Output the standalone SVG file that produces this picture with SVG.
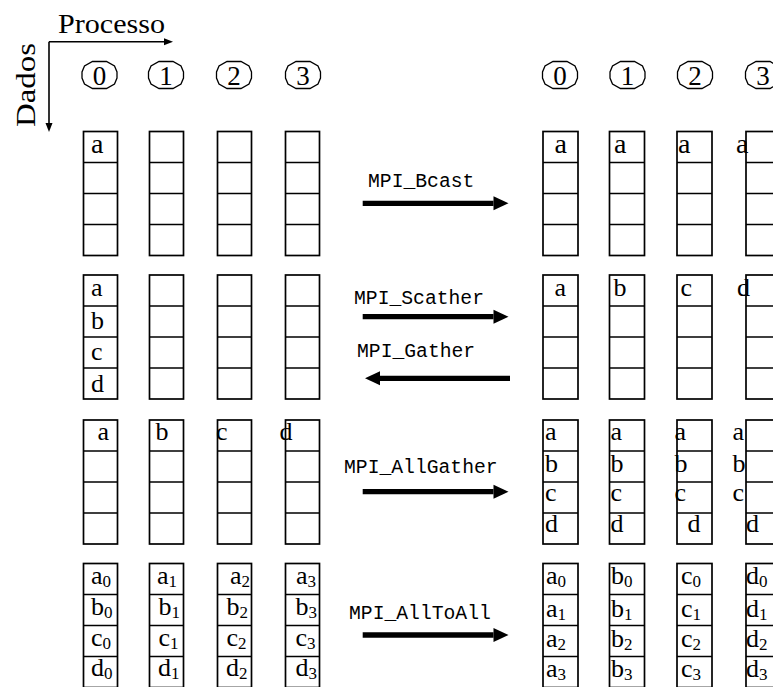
<svg xmlns="http://www.w3.org/2000/svg" xmlns:xlink="http://www.w3.org/1999/xlink" width="773" height="687" viewBox="0 0 773 687">
<style>
.cell{fill:none;stroke:#000;stroke-width:1.7}
.oct{fill:none;stroke:#000;stroke-width:1.3}
.t{font-family:"Liberation Serif","Times New Roman",Times,serif;font-size:26px;fill:#000}
.t1{font-size:28px}
.s{font-size:17px}
.big{font-family:"Liberation Serif","Times New Roman",Times,serif;font-size:28px;fill:#000}
.dg{font-family:"Liberation Serif","Times New Roman",Times,serif;font-size:27px;fill:#000;text-anchor:middle}
.m{font-family:"Liberation Mono","Courier New",monospace;font-size:19.7px;fill:#000}
.ax{stroke:#000;stroke-width:1.6;fill:none}
.ar{stroke:#000;stroke-width:5.3;fill:none}
</style>
<defs>
<g id="colL"><rect class="cell" x="0" y="0" width="34" height="124"/><path class="cell" d="M0,31H34M0,62H34M0,93H34"/></g>
<g id="colR"><rect class="cell" x="0" y="0" width="35" height="124"/><path class="cell" d="M0,31H35M0,62H35M0,93H35"/></g>
<polygon id="oct" class="oct" points="-7,-13.5 7,-13.5 15,-9 17.5,-3 17.5,3 15,9 7,13.5 -7,13.5 -15,9 -17.5,3 -17.5,-3 -15,-9"/>
<marker id="ah" markerUnits="userSpaceOnUse" markerWidth="15" markerHeight="14" refX="0" refY="7" orient="auto" overflow="visible"><path d="M0,0L15,7L0,14z" fill="#000"/></marker>
<marker id="sh" markerUnits="userSpaceOnUse" markerWidth="9" markerHeight="7" refX="0" refY="3.5" orient="auto" overflow="visible"><path d="M0,0L9,3.5L0,7z" fill="#000"/></marker>
</defs>
<rect x="0" y="0" width="773" height="687" fill="#fff"/>

<g id="axes">
<text class="big" x="58" y="33" textLength="107" lengthAdjust="spacingAndGlyphs">Processo</text>
<text class="big" transform="translate(35,127) rotate(-90)" x="0" y="0" textLength="84" lengthAdjust="spacingAndGlyphs">Dados</text>
<path class="ax" d="M49,41.7H164" marker-end="url(#sh)"/>
<path class="ax" d="M49,41.7V123" marker-end="url(#sh)"/>
</g>

<g id="procs-left">
<g id="pL0"><use href="#oct" x="99.5" y="75"/><text class="dg" x="99.5" y="85">0</text></g>
<g id="pL1"><use href="#oct" x="166" y="75"/><text class="dg" x="166" y="85">1</text></g>
<g id="pL2"><use href="#oct" x="234" y="75"/><text class="dg" x="234" y="85">2</text></g>
<g id="pL3"><use href="#oct" x="303" y="75"/><text class="dg" x="303" y="85">3</text></g>
</g>
<g id="procs-right">
<g id="pR0"><use href="#oct" x="560" y="75"/><text class="dg" x="560" y="85">0</text></g>
<g id="pR1"><use href="#oct" x="627.5" y="75"/><text class="dg" x="627.5" y="85">1</text></g>
<g id="pR2"><use href="#oct" x="695" y="75"/><text class="dg" x="695" y="85">2</text></g>
<g id="pR3"><use href="#oct" x="763" y="75"/><text class="dg" x="763" y="85">3</text></g>
</g>

<!-- Block 1: Bcast -->
<g id="b1L0"><use href="#colL" x="83.5" y="131.5"/><text class="t t1" x="91" y="152.5">a</text></g>
<g id="b1L1"><use href="#colL" x="149.5" y="131.5"/></g>
<g id="b1L2"><use href="#colL" x="217.5" y="131.5"/></g>
<g id="b1L3"><use href="#colL" x="285.5" y="131.5"/></g>
<g id="b1R0"><use href="#colR" x="543" y="131.5"/><text class="t t1" x="554.5" y="152.5">a</text></g>
<g id="b1R1"><use href="#colR" x="609.5" y="131.5"/><text class="t t1" x="614" y="152.5">a</text></g>
<g id="b1R2"><use href="#colR" x="677" y="131.5"/><text class="t t1" x="678" y="152.5">a</text></g>
<g id="b1R3"><use href="#colR" x="746" y="131.5"/><text class="t t1" x="736" y="152.5">a</text></g>

<!-- Block 2: Scatter / Gather -->
<g id="b2L0"><use href="#colL" x="83.5" y="275"/><text class="t" x="91" y="296">a</text><text class="t" x="91" y="329">b</text><text class="t" x="91" y="360">c</text><text class="t" x="91" y="391.5">d</text></g>
<g id="b2L1"><use href="#colL" x="149.5" y="275"/></g>
<g id="b2L2"><use href="#colL" x="217.5" y="275"/></g>
<g id="b2L3"><use href="#colL" x="285.5" y="275"/></g>
<g id="b2R0"><use href="#colR" x="543" y="275"/><text class="t" x="554.5" y="296">a</text></g>
<g id="b2R1"><use href="#colR" x="609.5" y="275"/><text class="t" x="613.5" y="296">b</text></g>
<g id="b2R2"><use href="#colR" x="677" y="275"/><text class="t" x="680.5" y="296">c</text></g>
<g id="b2R3"><use href="#colR" x="746" y="275"/><text class="t" x="737" y="296">d</text></g>

<!-- Block 3: AllGather -->
<g id="b3L0"><use href="#colL" x="83.5" y="420"/><text class="t" x="97.5" y="439.5">a</text></g>
<g id="b3L1"><use href="#colL" x="149.5" y="420"/><text class="t" x="155.5" y="439.5">b</text></g>
<g id="b3L2"><use href="#colL" x="217.5" y="420"/><text class="t" x="216" y="439.5">c</text></g>
<g id="b3L3"><use href="#colL" x="285.5" y="420"/><text class="t" x="279.5" y="439.5">d</text></g>
<g id="b3R0"><use href="#colR" x="543" y="420"/><text class="t" x="545" y="439.5">a</text><text class="t" x="545" y="472">b</text><text class="t" x="545" y="501">c</text><text class="t" x="545" y="532">d</text></g>
<g id="b3R1"><use href="#colR" x="609.5" y="420"/><text class="t" x="610.5" y="439.5">a</text><text class="t" x="610.5" y="472">b</text><text class="t" x="610.5" y="501">c</text><text class="t" x="610.5" y="532">d</text></g>
<g id="b3R2"><use href="#colR" x="677" y="420"/><text class="t" x="674.5" y="439.5">a</text><text class="t" x="674.5" y="472">b</text><text class="t" x="674.5" y="501">c</text><text class="t" x="687.5" y="532">d</text></g>
<g id="b3R3"><use href="#colR" x="746" y="420"/><text class="t" x="732.5" y="439.5">a</text><text class="t" x="732.5" y="472">b</text><text class="t" x="732.5" y="501">c</text><text class="t" x="746" y="532">d</text></g>

<!-- Block 4: AllToAll -->
<g id="b4L0"><use href="#colL" x="83.5" y="563.5"/>
<text class="t" x="91" y="583.5">a<tspan class="s" dy="3">0</tspan></text>
<text class="t" x="91" y="615">b<tspan class="s" dy="3">0</tspan></text>
<text class="t" x="91" y="646">c<tspan class="s" dy="3">0</tspan></text>
<text class="t" x="91" y="676">d<tspan class="s" dy="3">0</tspan></text></g>
<g id="b4L1"><use href="#colL" x="149.5" y="563.5"/>
<text class="t" x="157" y="583.5">a<tspan class="s" dy="3">1</tspan></text>
<text class="t" x="158.5" y="615">b<tspan class="s" dy="3">1</tspan></text>
<text class="t" x="158.5" y="646">c<tspan class="s" dy="3">1</tspan></text>
<text class="t" x="158" y="676">d<tspan class="s" dy="3">1</tspan></text></g>
<g id="b4L2"><use href="#colL" x="217.5" y="563.5"/>
<text class="t" x="230" y="583.5">a<tspan class="s" dy="3">2</tspan></text>
<text class="t" x="226.5" y="615">b<tspan class="s" dy="3">2</tspan></text>
<text class="t" x="226.5" y="646">c<tspan class="s" dy="3">2</tspan></text>
<text class="t" x="226" y="676">d<tspan class="s" dy="3">2</tspan></text></g>
<g id="b4L3"><use href="#colL" x="285.5" y="563.5"/>
<text class="t" x="296" y="583.5">a<tspan class="s" dy="3">3</tspan></text>
<text class="t" x="295.5" y="615">b<tspan class="s" dy="3">3</tspan></text>
<text class="t" x="295.5" y="646">c<tspan class="s" dy="3">3</tspan></text>
<text class="t" x="295.5" y="676">d<tspan class="s" dy="3">3</tspan></text></g>
<g id="b4R0"><use href="#colR" x="543" y="563.5"/>
<text class="t" x="546" y="584">a<tspan class="s" dy="3">0</tspan></text>
<text class="t" x="546" y="616.5">a<tspan class="s" dy="3">1</tspan></text>
<text class="t" x="546" y="646.5">a<tspan class="s" dy="3">2</tspan></text>
<text class="t" x="546" y="676.5">a<tspan class="s" dy="3">3</tspan></text></g>
<g id="b4R1"><use href="#colR" x="609.5" y="563.5"/>
<text class="t" x="611" y="584">b<tspan class="s" dy="3">0</tspan></text>
<text class="t" x="611" y="616.5">b<tspan class="s" dy="3">1</tspan></text>
<text class="t" x="611" y="646.5">b<tspan class="s" dy="3">2</tspan></text>
<text class="t" x="611" y="676.5">b<tspan class="s" dy="3">3</tspan></text></g>
<g id="b4R2"><use href="#colR" x="677" y="563.5"/>
<text class="t" x="681" y="584">c<tspan class="s" dy="3">0</tspan></text>
<text class="t" x="681" y="616.5">c<tspan class="s" dy="3">1</tspan></text>
<text class="t" x="681" y="646.5">c<tspan class="s" dy="3">2</tspan></text>
<text class="t" x="681" y="676.5">c<tspan class="s" dy="3">3</tspan></text></g>
<g id="b4R3"><use href="#colR" x="746" y="563.5"/>
<text class="t" x="746" y="584">d<tspan class="s" dy="3">0</tspan></text>
<text class="t" x="746" y="616.5">d<tspan class="s" dy="3">1</tspan></text>
<text class="t" x="746" y="646.5">d<tspan class="s" dy="3">2</tspan></text>
<text class="t" x="746" y="676.5">d<tspan class="s" dy="3">3</tspan></text></g>

<g id="connectors">
<text class="m" x="368" y="187">MPI_Bcast</text>
<path class="ar" d="M362.7,203.3H493.5" marker-end="url(#ah)"/>
<text class="m" x="354" y="303.5">MPI_Scather</text>
<path class="ar" d="M362.7,316.7H493.5" marker-end="url(#ah)"/>
<text class="m" x="357" y="357">MPI_Gather</text>
<path class="ar" d="M510,378.3H380" marker-end="url(#ah)"/>
<text class="m" x="344" y="473">MPI_AllGather</text>
<path class="ar" d="M362.7,491.7H493.5" marker-end="url(#ah)"/>
<text class="m" x="349" y="619">MPI_AllToAll</text>
<path class="ar" d="M362.7,635H493.5" marker-end="url(#ah)"/>
</g>
</svg>
